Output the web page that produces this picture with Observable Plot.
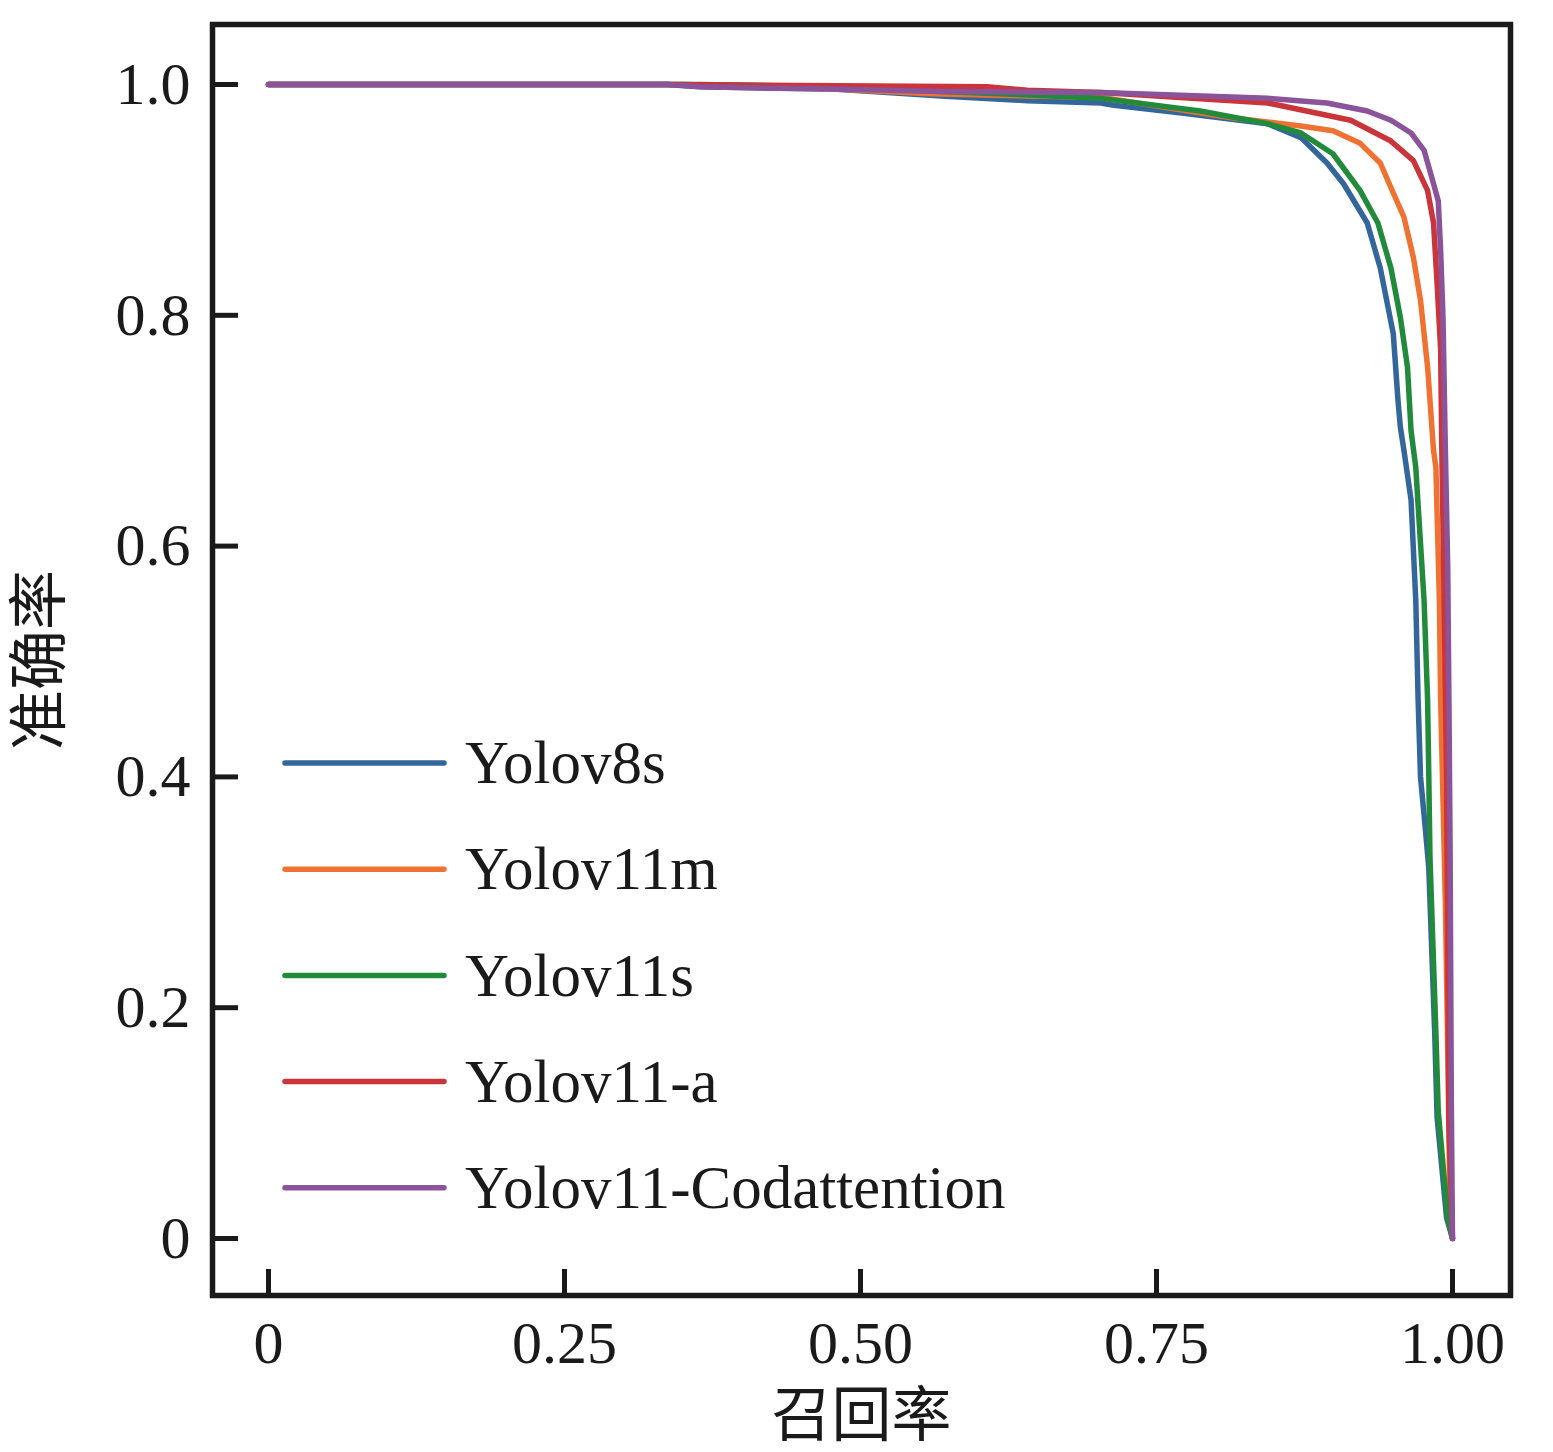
<!DOCTYPE html>
<html>
<head>
<meta charset="utf-8">
<script src="https://cdn.jsdelivr.net/npm/d3@7"></script>
<script src="https://cdn.jsdelivr.net/npm/@observablehq/plot@0.6"></script>
<style>
  body { margin: 0; background: #fff; }
  #wrap { position: relative; width: 1553px; height: 1452px; }
  #legend { position: absolute; left: 0; top: 0; }
</style>
</head>
<body>
<div id="wrap"></div>
<script>
// ---- data ----
const seriesNames = ["Yolov8s", "Yolov11m", "Yolov11s", "Yolov11-a", "Yolov11-Codattention"];
const seriesColors = ["#33669a", "#f07232", "#228b3b", "#c9353a", "#8b549a"];

const recallYolov8s = [0, 0.337, 0.365, 0.477, 0.568, 0.641, 0.669, 0.703, 0.714, 0.773, 0.844, 0.872, 0.894, 0.908, 0.928, 0.939, 0.950, 0.954, 0.956, 0.959, 0.965, 0.969, 0.971, 0.973, 0.977, 0.980, 0.985, 0.987, 0.995, 1.0];
const precisionYolov8s = [1, 1, 0.998, 0.996, 0.990, 0.986, 0.985, 0.984, 0.982, 0.975, 0.966, 0.954, 0.932, 0.914, 0.880, 0.841, 0.784, 0.726, 0.703, 0.683, 0.640, 0.553, 0.466, 0.400, 0.356, 0.321, 0.178, 0.105, 0.018, 0];

const recallYolov11m = [0, 0.35, 0.477, 0.56, 0.641, 0.703, 0.815, 0.872, 0.899, 0.922, 0.939, 0.950, 0.959, 0.967, 0.973, 0.979, 0.984, 0.986, 0.989, 0.990, 0.992, 0.994, 0.996, 0.998, 1.0];
const precisionYolov11m = [1, 1, 0.996, 0.992, 0.990, 0.989, 0.971, 0.964, 0.960, 0.949, 0.932, 0.906, 0.885, 0.850, 0.813, 0.755, 0.683, 0.668, 0.55, 0.466, 0.38, 0.29, 0.163, 0.018, 0];

const recallYolov11s = [0, 0.365, 0.477, 0.568, 0.641, 0.703, 0.787, 0.844, 0.872, 0.899, 0.922, 0.937, 0.948, 0.956, 0.962, 0.965, 0.969, 0.976, 0.979, 0.980, 0.981, 0.986, 0.988, 0.996, 1.0];
const precisionYolov11s = [1, 1, 0.998, 0.994, 0.991, 0.988, 0.977, 0.966, 0.958, 0.940, 0.908, 0.880, 0.841, 0.798, 0.755, 0.700, 0.668, 0.553, 0.466, 0.400, 0.330, 0.178, 0.110, 0.018, 0];

const recallYolov11a = [0, 0.337, 0.607, 0.641, 0.703, 0.844, 0.914, 0.948, 0.967, 0.979, 0.984, 0.987, 0.990, 0.991, 0.993, 0.995, 0.996, 0.997, 1.0];
const precisionYolov11a = [1, 1, 0.998, 0.995, 0.993, 0.984, 0.969, 0.951, 0.934, 0.908, 0.880, 0.828, 0.770, 0.683, 0.55, 0.40, 0.25, 0.10, 0];

const recallCodatt = [0, 0.337, 0.365, 0.477, 0.568, 0.703, 0.844, 0.894, 0.928, 0.948, 0.965, 0.976, 0.984, 0.988, 0.990, 0.992, 0.994, 0.996, 0.997, 0.998, 0.999, 1.0];
const precisionCodatt = [1, 1, 0.998, 0.996, 0.994, 0.993, 0.988, 0.984, 0.977, 0.969, 0.958, 0.943, 0.914, 0.899, 0.856, 0.798, 0.683, 0.581, 0.466, 0.336, 0.12, 0];

const xTicks = [0, 0.25, 0.5, 0.75, 1.0];
const xTickLabels = ["0", "0.25", "0.50", "0.75", "1.00"];
const yTicks = [0, 0.2, 0.4, 0.6, 0.8, 1.0];
const yTickLabels = ["0", "0.2", "0.4", "0.6", "0.8", "1.0"];
const xLabel = "召回率";
const yLabel = "准确率";

// ---- build table ----
const recalls = [recallYolov8s, recallYolov11m, recallYolov11s, recallYolov11a, recallCodatt];
const precisions = [precisionYolov8s, precisionYolov11m, precisionYolov11s, precisionYolov11a, precisionCodatt];
const rows = [];
seriesNames.forEach((name, s) => {
  recalls[s].forEach((r, i) => rows.push({series: name, recall: r, precision: precisions[s][i]}));
});

const FONT = "'Liberation Serif', 'Times New Roman', 'Noto Sans CJK SC', serif";
const INK = "#1a1a1a";

const chart = Plot.plot({
  width: 1553,
  height: 1452,
  marginLeft: 212,
  marginRight: 43,
  marginTop: 24,
  marginBottom: 157,
  style: {fontFamily: FONT, fontSize: "60px", color: INK, background: "#fff", overflow: "visible"},
  x: {domain: [-0.0473, 1.049]},
  y: {domain: [-0.0494, 1.052]},
  color: {domain: seriesNames, range: seriesColors},
  marks: [
    Plot.line(rows, {x: "recall", y: "precision", z: "series", stroke: "series", strokeWidth: 5.5, strokeLinejoin: "round", strokeLinecap: "round"}),
    Plot.frame({stroke: INK, strokeWidth: 5.5}),
    Plot.axisX({ticks: xTicks, tickSize: -26, strokeWidth: 5, stroke: INK, tickFormat: () => "", label: null}),
    Plot.axisY({ticks: yTicks, tickSize: -26, strokeWidth: 5, stroke: INK, tickFormat: () => "", label: null}),
    Plot.axisX({ticks: xTicks, tickSize: 0, tickPadding: 25, fontSize: 60, fill: INK,
      tickFormat: d => xTickLabels[xTicks.indexOf(d)],
      label: xLabel, labelAnchor: "center", labelArrow: "none", labelOffset: 140}),
    Plot.axisY({ticks: yTicks, tickSize: 0, tickPadding: 22, fontSize: 60, fill: INK,
      tickFormat: d => yTickLabels[yTicks.indexOf(d)],
      label: yLabel, labelAnchor: "center", labelArrow: "none", labelOffset: 195})
  ]
});

const wrap = document.getElementById("wrap");
wrap.appendChild(chart);

// ---- legend overlay ----
const legend = d3.select(wrap).append("svg")
  .attr("id", "legend")
  .attr("width", 1553).attr("height", 1452);
const rowsG = legend.selectAll("g").data(seriesNames).join("g")
  .attr("transform", (d, i) => `translate(0, ${763 + i * 106.2})`);
rowsG.append("line")
  .attr("x1", 285).attr("x2", 444).attr("y1", 0).attr("y2", 0)
  .attr("stroke", (d, i) => seriesColors[i]).attr("stroke-width", 5.5).attr("stroke-linecap", "round");
rowsG.append("text")
  .attr("x", 465).attr("y", 0).attr("dy", "0.33em")
  .attr("font-family", FONT).attr("font-size", 61).attr("fill", INK)
  .text(d => d);
</script>
</body>
</html>
